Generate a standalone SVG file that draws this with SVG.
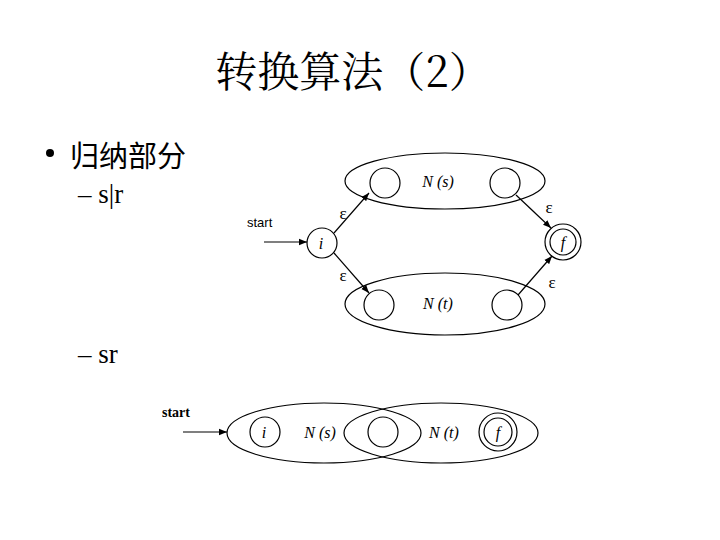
<svg xmlns="http://www.w3.org/2000/svg" width="720" height="540" viewBox="0 0 720 540">
<defs>
<marker id="ah" viewBox="0 0 10 10" refX="10" refY="5" markerWidth="8" markerHeight="8" markerUnits="userSpaceOnUse" orient="auto">
<path d="M0,1 L10,5 L0,9 Z" fill="#000"/>
</marker>
<style>
.s{fill:none;stroke:#000;stroke-width:1.2}
.c{fill:#fff;stroke:#000;stroke-width:1.2}
.e{fill:none;stroke:#000;stroke-width:1.2;marker-end:url(#ah)}
.lbl{font-family:"Liberation Serif",serif;font-style:italic;font-size:16px;text-anchor:middle;white-space:pre}
.eps{font-family:"Liberation Serif",serif;font-size:17px;text-anchor:middle}
.st{font-family:"Liberation Sans",sans-serif;font-size:13px}
.stb{font-family:"Liberation Serif",serif;font-weight:bold;font-size:14px}
</style>
</defs>
<rect width="720" height="540" fill="#fff"/>
<text x="353" y="87" font-family="'Noto Serif CJK SC','Noto Sans CJK SC',serif" font-size="42" text-anchor="middle">转换算法（2）</text>
<circle cx="50" cy="153" r="4" fill="#000"/>
<text x="70" y="167" font-family="'Noto Sans CJK SC',sans-serif" font-size="29">归纳部分</text>
<text x="78" y="203" font-family="'Liberation Serif',serif" font-size="27">– s|r</text>
<text x="78" y="363" font-family="'Liberation Serif',serif" font-size="27">– sr</text>

<g id="top-figure">
<g id="Ns"><ellipse class="s" cx="445" cy="181" rx="100" ry="28"/><text class="lbl" x="438" y="187">N (s)</text></g>
<g id="Nt"><ellipse class="s" cx="445" cy="304" rx="100" ry="31"/><text class="lbl" x="438" y="309">N (t)</text></g>
<g id="s1"><circle class="c" cx="385" cy="183" r="15"/></g>
<g id="s2"><circle class="c" cx="505" cy="183" r="15"/></g>
<g id="t1"><circle class="c" cx="379" cy="305" r="15"/></g>
<g id="t2"><circle class="c" cx="507" cy="305" r="15"/></g>
<g id="i1"><circle class="c" cx="322" cy="243" r="15"/><text class="lbl" x="321" y="249">i</text></g>
<g id="f1"><circle class="c" cx="563" cy="242" r="18"/><circle class="c" cx="563" cy="242" r="13"/><text class="lbl" x="563" y="248">f</text></g>
<text class="st" x="247" y="227">start</text>
<g id="top-edges">
<line class="e" x1="264" y1="242" x2="307" y2="242"/>
<line class="e" x1="334" y1="233" x2="369" y2="193"/>
<line class="e" x1="334" y1="253" x2="369" y2="293"/>
<line class="e" x1="516" y1="195" x2="551" y2="228"/>
<line class="e" x1="518" y1="295" x2="552" y2="256"/>
</g>
<text class="eps" x="343" y="219">ε</text>
<text class="eps" x="343" y="281">ε</text>
<text class="eps" x="549" y="213">ε</text>
<text class="eps" x="552" y="288">ε</text>
</g>

<g id="bottom-figure">
<g id="Ns2"><ellipse class="s" cx="324" cy="433" rx="97" ry="30"/><text class="lbl" x="320" y="438">N (s)</text></g>
<g id="Nt2"><ellipse class="s" cx="441" cy="433" rx="97" ry="30"/><text class="lbl" x="444" y="438">N (t)</text></g>
<g id="i2"><circle class="c" cx="265" cy="432" r="15"/><text class="lbl" x="264" y="438">i</text></g>
<g id="m2"><circle class="c" cx="383" cy="432" r="15"/></g>
<g id="f2"><circle class="c" cx="498" cy="432" r="19"/><circle class="c" cx="498" cy="432" r="14"/><text class="lbl" x="498" y="438">f</text></g>
<text class="stb" x="162" y="417">start</text>
<g id="bottom-edges">
<line class="e" x1="183" y1="432" x2="227" y2="432"/>
</g>
</g>
</svg>
